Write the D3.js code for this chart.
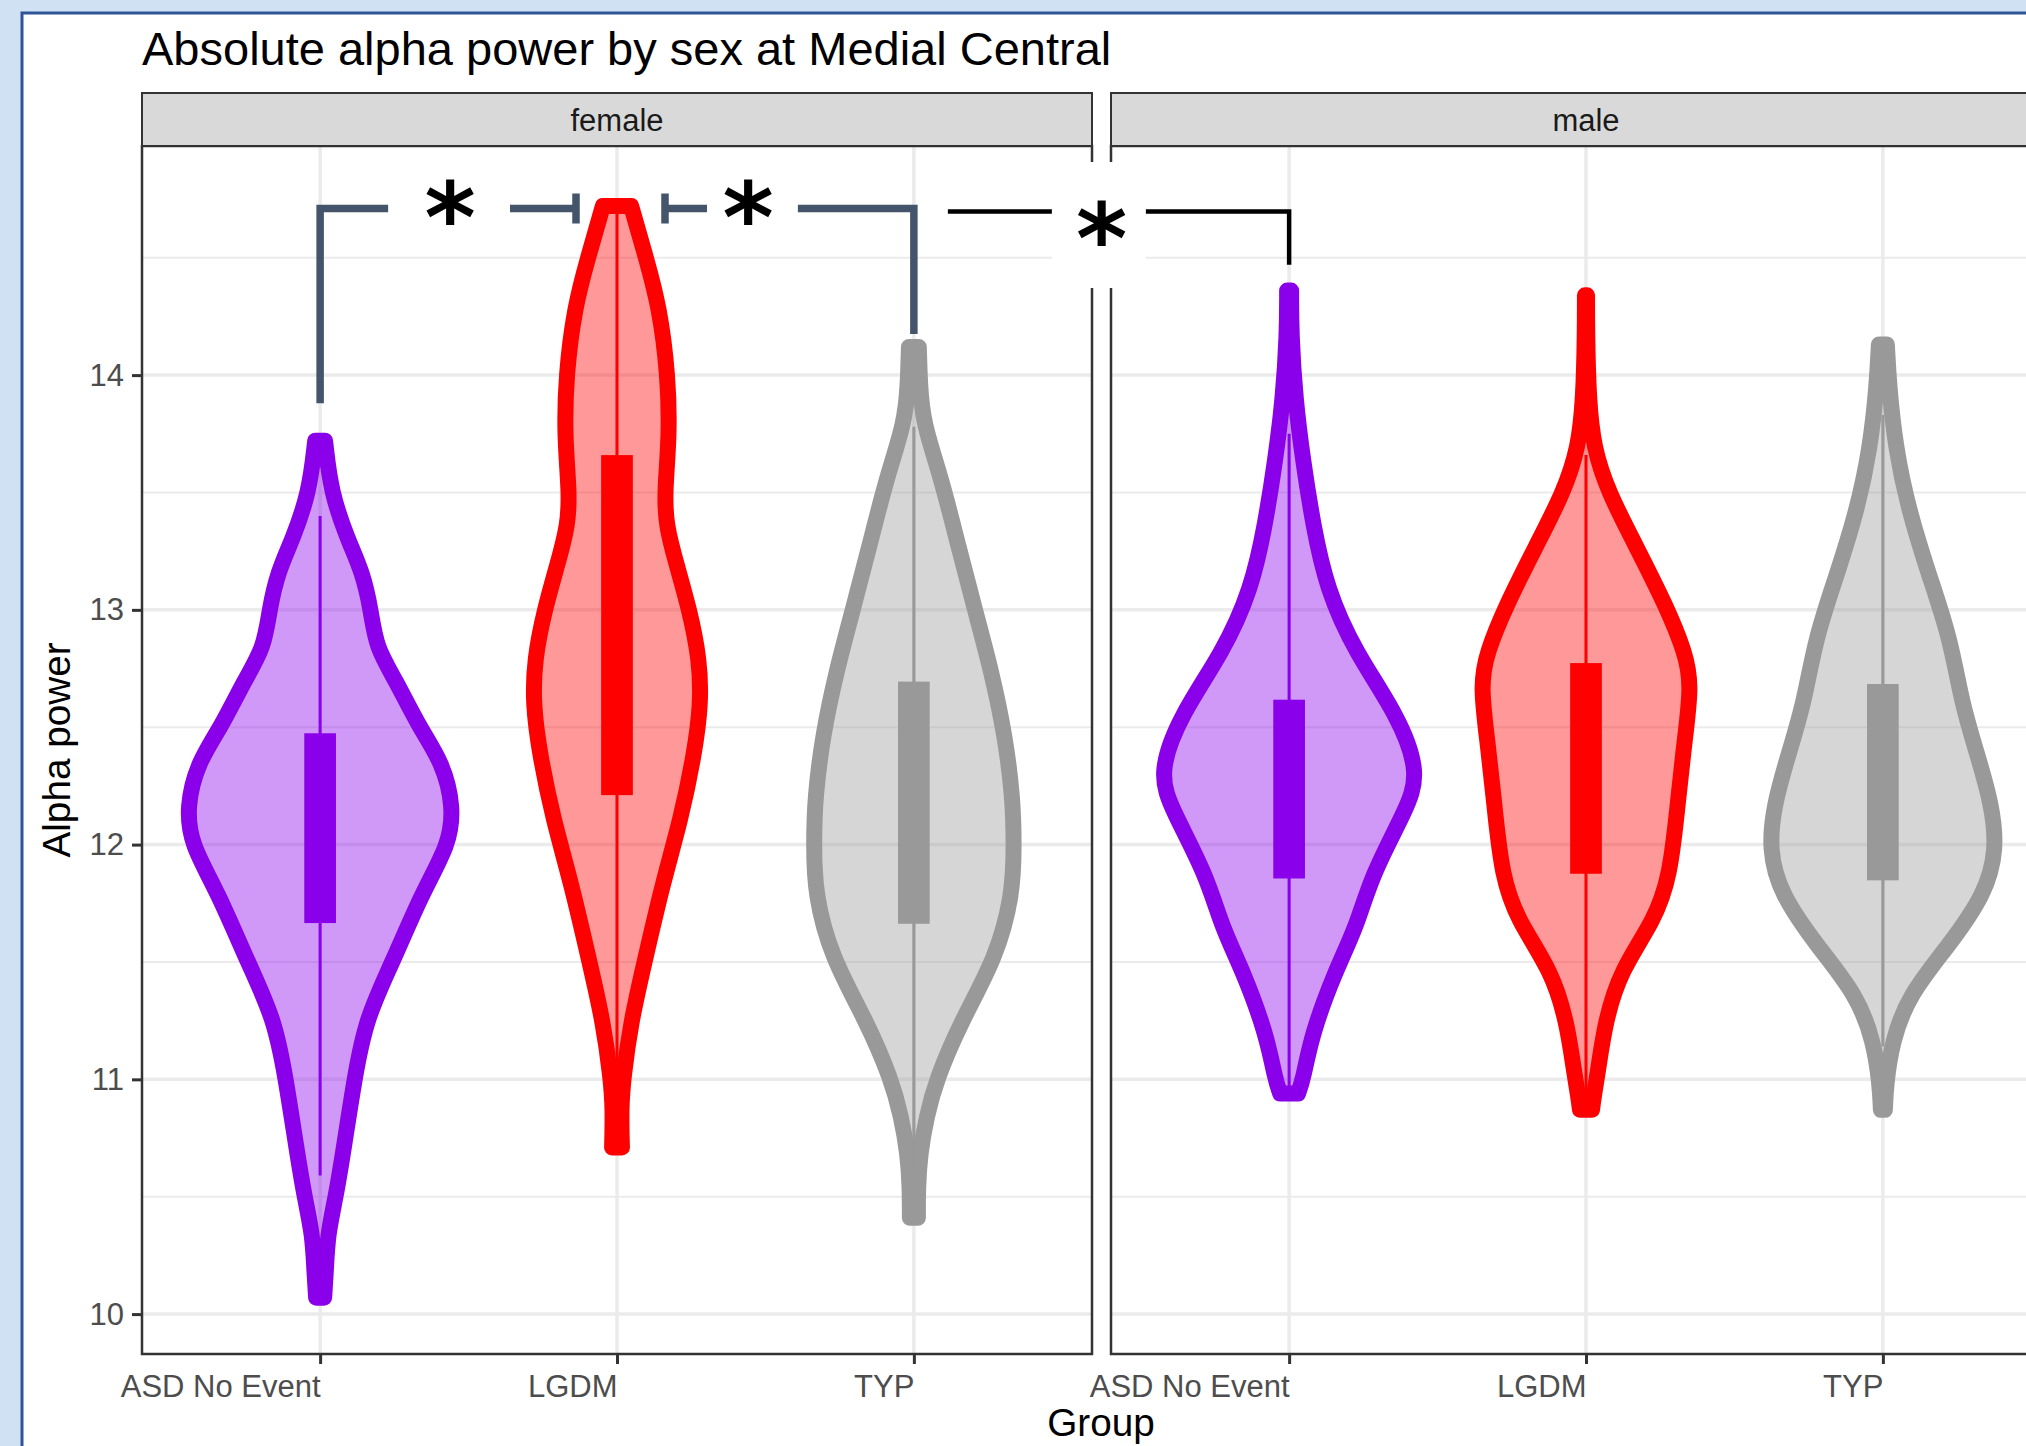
<!DOCTYPE html>
<html>
<head>
<meta charset="utf-8">
<script src="https://cdnjs.cloudflare.com/ajax/libs/d3/7.8.5/d3.min.js"></script>
<style>
  body { margin: 0; background: #cfe1f3; overflow: hidden; }
  text { font-family: "Liberation Sans", Arial, sans-serif; }
</style>
</head>
<body>
<script>
"use strict";

var panels = ['female', 'male'];
var groups = ['ASD No Event', 'LGDM', 'TYP'];
var yTicks = [10, 11, 12, 13, 14];
var yMinor = [10.5, 11.5, 12.5, 13.5, 14.5];
var groupColors = ['#8a00ea', '#ff0000', '#999999'];

// violin outlines: [alpha power, relative density], bottom to top
var femaleASD = [[10.07,0.03],[10.18,0.043],[10.34,0.056],[10.5,0.118],[10.72,0.181],[11.0,0.256],
  [11.26,0.343],[11.5,0.543],[11.8,0.767],[12.0,0.966],[12.16,1.0],[12.35,0.917],[12.5,0.741],
  [12.7,0.567],[12.84,0.418],[13.0,0.38],[13.16,0.318],[13.3,0.206],[13.5,0.081],[13.72,0.037]];
var femaleLGDM = [[10.71,0.037],[10.87,0.03],[11.0,0.045],[11.25,0.105],[11.5,0.206],[11.84,0.344],
  [12.11,0.479],[12.39,0.58],[12.6,0.629],[12.79,0.618],[13.0,0.543],[13.2,0.442],[13.36,0.367],
  [13.5,0.356],[13.74,0.393],[14.0,0.382],[14.29,0.318],[14.5,0.217],[14.72,0.106]];
var femaleTYP = [[10.41,0.03],[10.54,0.03],[10.68,0.045],[10.84,0.094],[11.0,0.168],[11.25,0.356],
  [11.52,0.618],[11.79,0.741],[12.0,0.749],[12.2,0.741],[12.47,0.681],[12.74,0.58],[13.0,0.457],
  [13.28,0.329],[13.56,0.206],[13.8,0.067],[13.96,0.045],[14.12,0.037]];
var maleASD = [[10.94,0.067],[11.0,0.105],[11.19,0.168],[11.46,0.344],[11.65,0.505],[11.87,0.618],
  [12.14,0.868],[12.3,0.981],[12.55,0.816],[12.82,0.494],[13.09,0.281],[13.36,0.18],[13.63,0.105],
  [13.9,0.045],[14.18,0.015],[14.36,0.015]];
var maleLGDM = [[10.87,0.045],[10.92,0.056],[11.05,0.094],[11.24,0.142],[11.46,0.254],[11.68,0.516],
  [11.87,0.629],[12.14,0.681],[12.41,0.73],[12.68,0.793],[12.82,0.741],[13.01,0.606],[13.28,0.367],
  [13.5,0.168],[13.69,0.056],[13.9,0.019],[14.18,0.008],[14.34,0.008]];
var maleTYP = [[10.87,0.015],[10.97,0.022],[11.16,0.067],[11.36,0.195],[11.57,0.494],[11.79,0.767],
  [11.98,0.853],[12.17,0.816],[12.39,0.704],[12.6,0.591],[12.88,0.505],[13.15,0.344],[13.42,0.195],
  [13.69,0.094],[13.96,0.045],[14.13,0.03]];

// boxplots: [lower whisker, q1, q3, upper whisker]
var femaleBoxes = [[10.59,11.67,12.47,13.4],[10.75,12.215,13.655,14.7],[10.62,11.667,12.69,13.78]];
var maleBoxes = [[10.95,11.86,12.613,13.75],[10.9,11.88,12.769,13.66],[11.14,11.852,12.68,13.83]];

// significance brackets (level and end points in alpha power units)
var bracketLevel = 14.71;
var bracketEnds = [13.88, 14.175, 14.47];
var sigLabel = '*';

var violinSets = [[femaleASD, femaleLGDM, femaleTYP], [maleASD, maleLGDM, maleTYP]];
var boxSets = [femaleBoxes, maleBoxes];

(function() {
  var W = 2026, H = 1446;
  var panelTop = 146, panelBottom = 1354;
  var panelW = 950;
  var panelLefts = [142, 1111];

  var svg = d3.select('body').append('svg')
    .attr('width', W).attr('height', H);

  // slide frame
  svg.append('rect')
    .attr('x', 22).attr('y', 13).attr('width', W).attr('height', H)
    .attr('fill', '#fff').attr('stroke', '#2f5597').attr('stroke-width', 3);

  var y = d3.scaleLinear().domain([9.83, 14.976]).range([panelBottom, panelTop]);

  var xScales = panelLefts.map(function(left) {
    return d3.scalePoint().domain(groups).range([left, left + panelW]).padding(0.6);
  });

  // title
  svg.append('text')
    .attr('x', 142).attr('y', 65)
    .style('font-size', '47px').attr('fill', '#000')
    .text('Absolute alpha power by sex at Medial Central');

  panels.forEach(function(p, i) {
    var x = xScales[i];
    var left = panelLefts[i];
    var w = d3.scaleLinear().domain([0, 1]).range([0, 0.45 * x.step()]);
    var g = svg.append('g');

    // grid
    g.selectAll('.minor').data(yMinor).enter().append('line')
      .attr('x1', left).attr('x2', left + panelW)
      .attr('y1', function(d) { return y(d); }).attr('y2', function(d) { return y(d); })
      .attr('stroke', '#ebebeb').attr('stroke-width', 2);
    g.selectAll('.major').data(yTicks).enter().append('line')
      .attr('x1', left).attr('x2', left + panelW)
      .attr('y1', function(d) { return y(d); }).attr('y2', function(d) { return y(d); })
      .attr('stroke', '#ebebeb').attr('stroke-width', 3.5);
    g.selectAll('.vgrid').data(groups).enter().append('line')
      .attr('x1', function(d) { return x(d); }).attr('x2', function(d) { return x(d); })
      .attr('y1', panelTop).attr('y2', panelBottom)
      .attr('stroke', '#ebebeb').attr('stroke-width', 3.5);

    // violins
    groups.forEach(function(grp, j) {
      var cx = x(grp);
      var col = groupColors[j];
      var area = d3.area()
        .y(function(d) { return y(d[0]); })
        .x0(function(d) { return cx - w(d[1]); })
        .x1(function(d) { return cx + w(d[1]); })
        .curve(d3.curveBasis);
      g.append('path').attr('d', area(violinSets[i][j]))
        .attr('fill', col).attr('fill-opacity', 0.4)
        .attr('stroke', col).attr('stroke-width', 16)
        .attr('stroke-linejoin', 'round');

      var b = boxSets[i][j];
      var bw = 0.1 * x.step();
      g.append('line')
        .attr('x1', cx).attr('x2', cx)
        .attr('y1', y(b[0])).attr('y2', y(b[3]))
        .attr('stroke', col).attr('stroke-width', 3);
      g.append('rect')
        .attr('x', cx - bw / 2).attr('width', bw)
        .attr('y', y(b[2])).attr('height', y(b[1]) - y(b[2]))
        .attr('fill', col).attr('stroke', col).attr('stroke-width', 2);
    });

    // panel border
    g.append('rect')
      .attr('x', left).attr('y', panelTop).attr('width', panelW).attr('height', panelBottom - panelTop)
      .attr('fill', 'none').attr('stroke', '#333').attr('stroke-width', 2.5);

    // strip
    g.append('rect')
      .attr('x', left).attr('y', 93).attr('width', panelW).attr('height', panelTop - 93)
      .attr('fill', '#d9d9d9').attr('stroke', '#333').attr('stroke-width', 2);
    g.append('text')
      .attr('x', left + panelW / 2).attr('y', 120).attr('dy', '0.35em')
      .attr('text-anchor', 'middle').style('font-size', '31px').attr('fill', '#1a1a1a')
      .text(p);

    // x axis
    var xAxis = g.append('g')
      .attr('transform', 'translate(0,' + panelBottom + ')')
      .call(d3.axisBottom(x).tickSize(10).tickPadding(11));
    xAxis.select('.domain').remove();
    xAxis.selectAll('line').attr('stroke', '#333').attr('stroke-width', 3);
    xAxis.selectAll('text')
      .attr('text-anchor', 'end').attr('fill', '#4d4d4d')
      .style('font-size', '31px').style('font-family', '"Liberation Sans", Arial, sans-serif');

    if (i === 0) {
      var yAxis = g.append('g')
        .attr('transform', 'translate(' + left + ',0)')
        .call(d3.axisLeft(y).tickValues(yTicks).tickFormat(d3.format('d')).tickSize(10).tickPadding(8));
      yAxis.select('.domain').remove();
      yAxis.selectAll('line').attr('stroke', '#333').attr('stroke-width', 3);
      yAxis.selectAll('text')
        .attr('fill', '#4d4d4d')
        .style('font-size', '31px').style('font-family', '"Liberation Sans", Arial, sans-serif');
    }
  });

  // axis titles
  svg.append('text')
    .attr('x', 1101).attr('y', 1436).attr('text-anchor', 'middle')
    .style('font-size', '38.7px').text('Group');
  svg.append('text')
    .attr('transform', 'translate(70,750) rotate(-90)').attr('text-anchor', 'middle')
    .style('font-size', '38.7px').text('Alpha power');

  // significance brackets
  var fx = xScales[0], mx = xScales[1];
  var lvl = y(bracketLevel);
  var slate = '#44546a';
  var ann = svg.append('g');
  var a1 = fx('ASD No Event'), a2 = fx('LGDM'), a3 = fx('TYP'), m1 = mx('ASD No Event');

  ann.append('path')
    .attr('d', 'M' + a1 + ',' + y(bracketEnds[0]) + 'V' + lvl + 'H' + (a1 + 68) +
      'M' + (a2 - 107) + ',' + lvl + 'H' + (a2 - 41) +
      'M' + (a2 - 41) + ',' + (lvl - 15) + 'V' + (lvl + 15) +
      'M' + (a2 + 48) + ',' + (lvl - 15) + 'V' + (lvl + 15) +
      'M' + (a2 + 48) + ',' + lvl + 'H' + (a2 + 90) +
      'M' + (a3 - 116) + ',' + lvl + 'H' + a3 + 'V' + y(bracketEnds[1]))
    .attr('fill', 'none').attr('stroke', slate).attr('stroke-width', 7.5);

  var lvl2 = lvl + 3;
  ann.append('path')
    .attr('d', 'M' + (a3 + 34) + ',' + lvl2 + 'H' + (a3 + 140) +
      'M' + (m1 - 146) + ',' + lvl2 + 'H' + m1 + 'V' + y(bracketEnds[2]))
    .attr('fill', 'none').attr('stroke', '#000').attr('stroke-width', 4.5);

  // white label box over the panel gap
  ann.append('rect')
    .attr('x', a3 + 138).attr('y', 162).attr('width', 94).attr('height', 126)
    .attr('fill', '#fff');

  // star baselines sit below the bracket line
  var stars = [[a1 + 130, lvl + 44], [a2 + 131, lvl + 44], [(a3 + m1) / 2, lvl + 65]];
  ann.selectAll('.star').data(stars).enter().append('text')
    .attr('x', function(d) { return d[0]; })
    .attr('y', function(d) { return d[1]; })
    .attr('text-anchor', 'middle')
    .style('font-family', '"DejaVu Sans", sans-serif')
    .style('font-weight', 'bold').style('font-size', '98px')
    .text(sigLabel);
})();
</script>
</body>
</html>
